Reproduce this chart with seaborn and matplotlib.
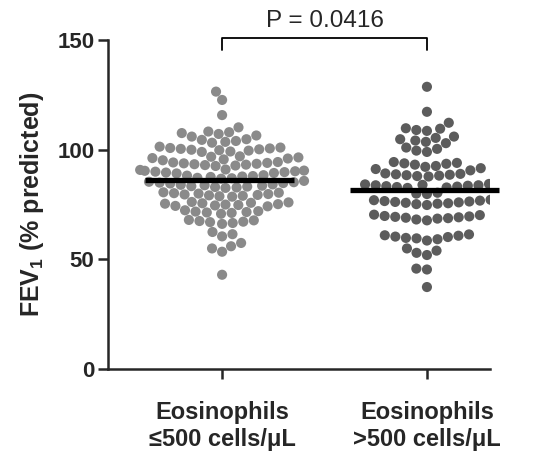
import numpy as np
import pandas as pd
import matplotlib
matplotlib.use("Agg")
import matplotlib.pyplot as plt
import seaborn as sns

# FEV1 (% predicted) per patient
low_eos = [126.5, 122.7, 115.8, 110.2,
           108.3, 107.6, 108.0, 107.2, 106.5, 106.0,
           104.5, 104.0, 103.6, 104.8, 103.2,
           100.8, 100.2, 99.6, 101.0, 99.8, 100.4, 99.2, 100.6, 101.4, 99.0, 100.0,
           96.5, 96.0, 95.6, 96.8, 95.2, 96.2, 97.0,
           94.0, 93.6, 93.2, 94.4, 92.8, 93.8, 93.0, 94.2, 92.6, 93.4,
           90.5, 90.0, 89.6, 90.8, 89.2, 90.2, 91.0, 89.8, 90.4, 89.4,
           88.0, 87.6, 87.2, 88.4, 86.8, 87.8, 87.0, 88.2,
           85.4, 85.0, 84.6, 85.8, 84.8, 85.2,
           83.8, 83.4, 83.0, 84.2, 82.8, 83.6, 83.2, 84.0, 82.6,
           80.0, 79.6, 79.2, 80.4, 78.8, 79.8, 79.4, 80.2, 78.6, 79.0, 80.6,
           75.6, 75.2, 74.8, 76.0, 74.4, 75.4, 75.0, 75.8, 74.6, 76.2, 74.2,
           72.0, 71.6, 71.2, 72.4, 70.8, 71.8, 71.4,
           67.5, 67.0, 66.6, 67.8, 66.2, 67.2, 68.0,
           62.5, 61.5, 60.5,
           57.5, 56.0, 55.0, 53.5,
           43.0]

high_eos = [128.7, 117.3, 112.3,
            109.6, 109.0, 108.6, 109.8,
            104.8, 104.2, 103.6, 105.4, 103.0, 106.0,
            101.0, 100.4, 99.6, 99.0,
            93.8, 93.2, 92.6, 94.4, 92.2, 93.6, 94.0,
            91.2, 90.6, 91.6,
            88.8, 88.2, 88.6, 89.2, 87.8, 88.4, 89.0, 88.0,
            83.8, 83.2, 83.6, 84.2, 82.8, 83.4, 84.0, 83.0, 83.8, 84.4, 82.6,
            80.4, 79.8, 80.0,
            76.6, 76.0, 75.4, 77.0, 75.8, 76.4, 74.8, 77.2, 76.2, 75.6, 76.8, 75.2,
            69.8, 69.2, 68.6, 70.2, 68.2, 69.6, 69.0, 70.4, 68.8, 69.4, 67.8,
            61.0, 60.4, 59.8, 61.4, 59.2, 60.2, 60.8, 58.6, 59.6,
            55.0, 54.0, 53.0, 52.0,
            45.8, 45.4,
            37.4]

groups = ["Eosinophils\n\u2264500 cells/\u03bcL", "Eosinophils\n>500 cells/\u03bcL"]
colors = ["#8a8a8a", "#5c5c5c"]
p_text = "P = 0.0416"

sns.set_style("white")
plt.rcParams['font.family'] = ['Liberation Sans', 'DejaVu Sans']
plt.rcParams['mathtext.fontset'] = 'custom'
plt.rcParams['mathtext.rm'] = 'Liberation Sans:bold'
plt.rcParams['mathtext.it'] = 'Liberation Sans:bold'
plt.rcParams['mathtext.bf'] = 'Liberation Sans:bold'

df = pd.DataFrame({
    "group": [groups[0]] * len(low_eos) + [groups[1]] * len(high_eos),
    "fev1": low_eos + high_eos,
})

fig = plt.figure(figsize=(5.33, 4.66), dpi=100)
ax = fig.add_axes([0.203, 0.208, 0.716, 0.706])

sns.swarmplot(data=df, x="group", y="fev1", hue="group", order=groups,
              palette=dict(zip(groups, colors)), size=7.3, linewidth=0,
              legend=False, warn_thresh=1.0, ax=ax)

# mean lines
for i, vals in enumerate([low_eos, high_eos]):
    ax.hlines(np.mean(vals), i - 0.375, i + 0.35, color="black", lw=3.8,
              zorder=5, clip_on=False)

# significance bracket
ax.plot([0, 0, 1, 1], [145.5, 151, 151, 145.5], color="black", lw=1.3,
        clip_on=False)
ax.text(0.5, 156, p_text, ha="center", va="baseline", fontsize=17.5)

ax.set_ylim(0, 150)
ax.set_xlim(-0.556, 1.307)
ax.set_yticks([0, 50, 100, 150])
ax.set_xlabel("")
ax.set_ylabel("FEV$_1$ (% predicted)", fontsize=18, fontweight="bold",
              labelpad=8)
for lab in ax.get_yticklabels() + ax.get_xticklabels():
    lab.set_fontweight("bold")
ax.tick_params(axis="y", labelsize=16, length=7, width=1.8, direction="out",
               left=True, pad=3)
ax.tick_params(axis="x", labelsize=17, length=7, width=1.8, direction="out",
               bottom=True, pad=16)
sns.despine(ax=ax)
ax.spines["left"].set_linewidth(1.8)
ax.spines["bottom"].set_linewidth(1.8)

fig.savefig("out.png", dpi=100)
